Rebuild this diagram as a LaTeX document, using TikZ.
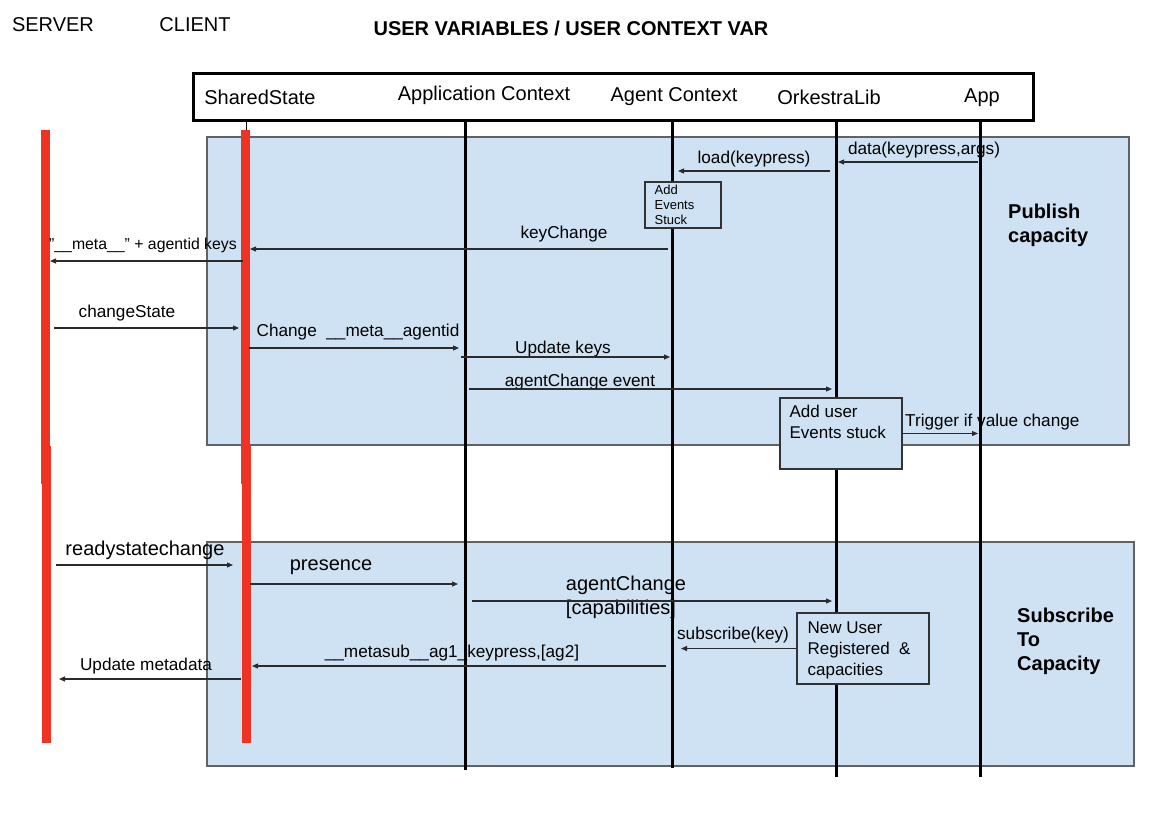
\documentclass[tikz,border=0pt]{standalone}
\usepackage{fontspec}
\setmainfont{Liberation Sans}
\usepackage{tikz}
\usetikzlibrary{arrows.meta}
\definecolor{panelblue}{HTML}{CFE2F3}
\definecolor{panelline}{HTML}{5F6368}
\definecolor{lifered}{HTML}{EE3224}
\definecolor{msggray}{HTML}{2B2B2B}
\newcommand{\msgsize}{\fontsize{17.2}{20}\selectfont}
\newcommand{\bigsize}{\fontsize{20}{24}\selectfont}
\newcommand{\notesize}{\fontsize{17}{21}\selectfont}
\newcommand{\smallnotesize}{\fontsize{13}{15}\selectfont}
\tikzset{
x=1pt, y=-1pt, % one unit is one pixel, y runs down
panel/.style={fill=panelblue, draw=panelline, line width=1.5pt}, % the two blue areas
life/.style={line width=3pt}, % black lifelines
redlife/.style={draw=lifered, line width=9pt}, % server and client lines
msg/.style={draw=msggray, line width=1.2pt, -{Triangle[length=6pt,width=5pt]}}, % messages
lbl/.style={inner sep=0pt, font=\msgsize}, % message texts
biglbl/.style={inner sep=0pt, font=\bigsize}, % larger message texts
notebox/.style={draw=black!80, fill=panelblue, line width=1.2pt, inner sep=0pt}, % note boxes
notetext/.style={inner sep=0pt, anchor=north west, align=left}, % text in note boxes
}
\begin{document}
\begin{tikzpicture}
\useasboundingbox (0,0) rectangle (1158,812);
% panels
\draw[panel] (207,137) rectangle (1129,445);
\draw[panel] (207,542) rectangle (1134,766);
% titles
\node[biglbl] (server) at (53,25) {SERVER};
\node[biglbl] (client) at (195,25) {CLIENT};
\node[biglbl, font=\bigsize\bfseries] (title) at (571,28) {USER VARIABLES / USER CONTEXT VAR};
% header
\draw[line width=3pt] (193,73) rectangle (1033,120);
\node[biglbl] (hss) at (260,97) {SharedState};
\node[biglbl] (hac) at (484,95) {Application Context};
\node[biglbl] (hag) at (674,97) {Agent Context};
\node[biglbl] (hok) at (829,97) {OrkestraLib};
\node[biglbl] (hap) at (982,98) {App};
% lifelines
\coordinate (srv) at (46,130);
\coordinate (cli) at (246,130);
\coordinate (actx) at (465,120);
\coordinate (agt) at (672,120);
\coordinate (ork) at (836,120);
\coordinate (app) at (980,120);
\draw[line width=1pt] (246,120) -- (cli);
\draw[redlife] (45,130) -- (45,484);
\draw[redlife] (46.3,446) -- (46.3,743);
\draw[redlife] (245.7,130) -- (245.7,484);
\draw[redlife] (246.7,446) -- (246.7,743);
\draw[life] (actx) -- ++(0,650);
\draw[life] (agt) -- ++(0,648);
\draw[life] (ork) -- ++(0,657);
\draw[life] (app) -- ++(0,657);
% notes
\node[notebox, minimum width=76, minimum height=46] (evbox) at (683,205) {};
\node[notetext, font=\smallnotesize] (evtext) at ([shift={(10,3)}]evbox.north west) {Add\\Events\\Stuck};
\node[notebox, minimum width=122, minimum height=71] (addbox) at (841,433.5) {};
\node[notetext, font=\notesize] (addtext) at ([shift={(10,8)}]addbox.north west) {Add user\\Events stuck};
\node[notebox, minimum width=132, minimum height=71] (newbox) at (863,648.5) {};
\node[notetext, font=\notesize] (newtext) at ([shift={(11,9)}]newbox.north west) {New User\\Registered \ \&\\capacities};
% publish capacity
\node[lbl] (ldata) at (924,150) {data(keypress,args)};
\draw[msg, shorten <=2pt, shorten >=2pt] (app |- 0,162) -- (ork |- 0,162);
\node[lbl] (lload) at (754,159) {load(keypress)};
\draw[msg, shorten <=6pt, shorten >=6pt] (ork |- 0,171) -- (agt |- 0,171);
\node[lbl] (lkey) at (564,234) {keyChange};
\draw[msg, shorten <=4pt, shorten >=4pt] (agt |- 0,249) -- (cli |- 0,249);
\node[lbl, anchor=west, font=\fontsize{15.8}{19}\selectfont] (lmeta) at (49,245) {"\_\_meta\_\_" + agentid keys};
\draw[msg, shorten <=3pt, shorten >=4pt] (cli |- 0,261) -- (srv |- 0,261);
\node[lbl] (lcst) at (127,313) {changeState};
\draw[msg, shorten <=8pt, shorten >=7pt] (srv |- 0,328) -- (cli |- 0,328);
\node[lbl] (lchg) at (358,332) {Change \ \_\_meta\_\_agentid};
\draw[msg, shorten <=3pt, shorten >=6pt] (cli |- 0,348) -- (actx |- 0,348);
\node[lbl] (lupd) at (563,349) {Update keys};
\draw[msg, shorten <=-4pt, shorten >=2pt] (actx |- 0,357) -- (agt |- 0,357);
\node[lbl] (lace) at (580,382) {agentChange event};
\draw[msg, shorten <=4pt, shorten >=4pt] (actx |- 0,389) -- (ork |- 0,389);
\node[lbl, anchor=west] (ltrig) at (905,422) {Trigger if value change};
\draw[msg, shorten >=2pt] (addbox.east) -- (app |- addbox.east);
\node[biglbl, font=\bigsize\bfseries, align=left, anchor=west] (lpub) at (1008,225) {Publish\\capacity};
% subscribe to capacity
\node[biglbl] (lrdy) at (145,550) {readystatechange};
\draw[msg, shorten <=10pt, shorten >=13pt] (srv |- 0,565) -- (cli |- 0,565);
\node[biglbl] (lpres) at (331,567) {presence};
\draw[msg, shorten <=4pt, shorten >=7pt] (cli |- 0,584) -- (actx |- 0,584);
\node[biglbl] (lacap) at (626,585) {agentChange};
\node[biglbl] (lcaps) at (621,609) {[capabilities]};
\draw[msg, shorten <=7pt, shorten >=4pt] (actx |- 0,601) -- (ork |- 0,601);
\node[lbl] (lsub) at (733,635) {subscribe(key)};
\draw[msg, shorten >=9pt] (newbox.west) -- (agt |- newbox.west);
\node[lbl] (lms) at (452,653) {\_\_metasub\_\_ag1\_keypress,[ag2]};
\draw[msg, shorten <=6pt, shorten >=6pt] (agt |- 0,666) -- (cli |- 0,666);
\node[lbl] (lumd) at (146,666) {Update metadata};
\draw[msg, shorten <=5pt, shorten >=13pt] (cli |- 0,679) -- (srv |- 0,679);
\node[biglbl, font=\bigsize\bfseries, align=left, anchor=west] (lsubc) at (1017,641) {Subscribe\\To\\Capacity};
\end{tikzpicture}
\end{document}
